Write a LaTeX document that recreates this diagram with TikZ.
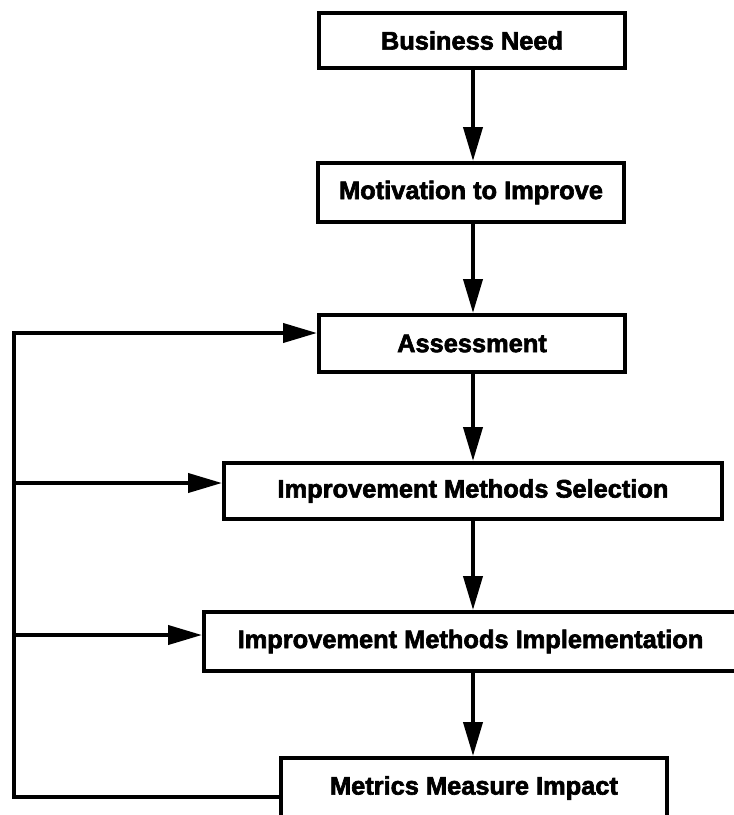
\documentclass[tikz,border=0pt]{standalone}
\usepackage{fontspec}
\setmainfont{Liberation Sans}[BoldFeatures={FakeBold=2.5}]
\usetikzlibrary{arrows.meta}
\begin{document}
\begin{tikzpicture}[x=1pt,y=-1pt,
  box/.style={draw, line width=4pt, inner sep=0pt, fill=white,
    font=\fontsize{25.4}{30}\selectfont\bfseries},
  flow/.style={line width=4pt, line join=miter, -{Triangle[length=34pt,width=19pt]}}]
\useasboundingbox (0,0) rectangle (734,815);
\node[box, minimum width=306pt, minimum height=55pt] (bn) at (472,40.5) {Business Need};
\node[box, minimum width=306pt, minimum height=59pt] (mi) at (471,192.5) {Motivation to Improve};
\node[box, minimum width=306pt, minimum height=57pt] (as) at (472,343.5) {Assessment};
\node[box, minimum width=498pt, minimum height=56pt] (se) at (473,491) {Improvement Methods Selection};
\node[box, minimum width=533pt, minimum height=59pt] (im) at (470.5,641.5) {Improvement Methods Implementation};
\node[box, minimum width=386pt, minimum height=60pt] (mm) at (474,788) {Metrics Measure Impact};
\coordinate (top) at (473,0);
\draw[flow] (bn.south -| top) -- (mi.north -| top);
\draw[flow] (mi.south -| top) -- (as.north -| top);
\draw[flow] (as.south -| top) -- (se.north -| top);
\draw[flow] (se.south -| top) -- (im.north -| top);
\draw[flow] (im.south -| top) -- (mm.north -| top);
\coordinate (c0) at (14,333);
\coordinate (c1) at (14,797);
\coordinate (c2) at (14,483);
\coordinate (c3) at (14,635);
\draw[flow] (c1 -| mm.west) -- (c1) -- (c0) -- (c0 -| as.west);
\draw[flow] (c2) -- (c2 -| se.west);
\draw[flow] (c3) -- (c3 -| im.west);
\end{tikzpicture}
\end{document}
